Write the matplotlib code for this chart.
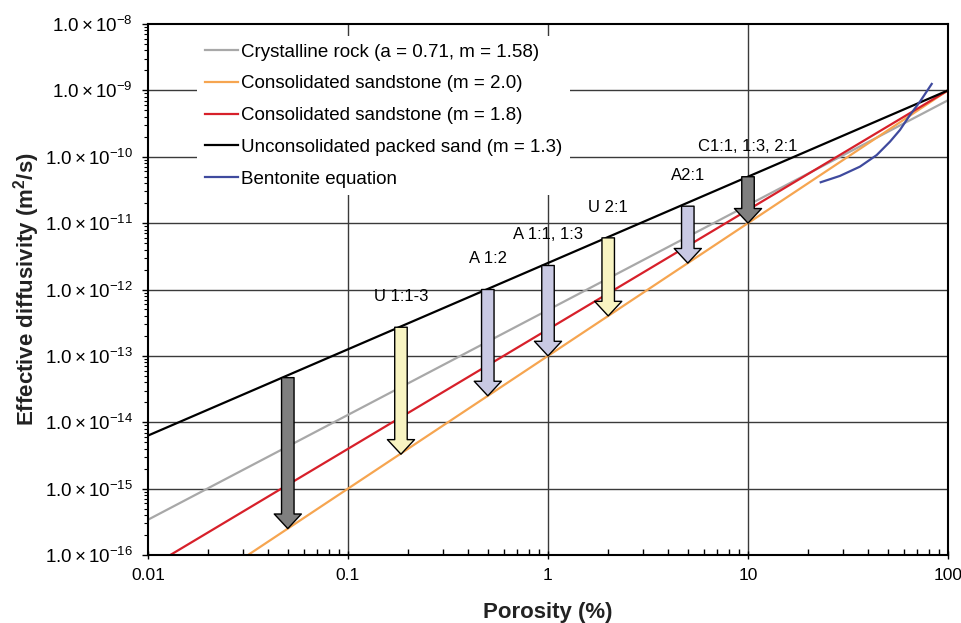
import numpy as np
import matplotlib
matplotlib.use("Agg")
import matplotlib.pyplot as plt
from matplotlib.patches import FancyArrowPatch, ArrowStyle
from matplotlib.ticker import LogLocator, NullFormatter

plt.rcParams['font.family'] = ['Liberation Sans', 'DejaVu Sans']
plt.rcParams['mathtext.fontset'] = 'custom'
plt.rcParams['mathtext.rm'] = 'Liberation Sans'
plt.rcParams['mathtext.it'] = 'Liberation Sans:italic'
plt.rcParams['mathtext.bf'] = 'Liberation Sans:bold'

# ---- data ----
line_x = [0.01, 100]
crystalline_y = [3.4e-16, 7.1e-10]
sandstone20_y = [1.0e-17, 1.0e-9]
sandstone18_y = [6.3e-17, 1.0e-9]
packed_sand_y = [6.3e-15, 1.0e-9]

bentonite_x = [23.1, 28.8, 36.3, 44.0, 51.3, 57.5, 64.6, 72.4, 82.9]
bentonite_y = [4.13e-11, 5.14e-11, 7.1e-11, 1.06e-10, 1.69e-10, 2.53e-10, 4.27e-10, 6.76e-10, 1.25e-9]

arrow_x = [0.05, 0.184, 0.5, 1.0, 2.0, 5.0, 10.0]
arrow_top = [4.7e-14, 2.7e-13, 1.0e-12, 2.3e-12, 6.0e-12, 1.8e-11, 5.0e-11]
arrow_bottom = [2.5e-16, 3.3e-15, 2.5e-14, 1.0e-13, 4.0e-13, 2.5e-12, 1.0e-11]
arrow_labels = ["", "U 1:1-3", "A 1:2", "A 1:1, 1:3", "U 2:1", "A2:1", "C1:1, 1:3, 2:1"]
arrow_colors = ["#7f7f7f", "#f8f4c2", "#c9c9e3", "#c9c9e3", "#f8f4c2", "#c9c9e3", "#7f7f7f"]

x_ticks = [0.01, 0.1, 1, 10, 100]
x_ticklabels = ["0.01", "0.1", "1", "10", "100"]
y_exponents = [-16, -15, -14, -13, -12, -11, -10, -9, -8]

legend_labels = ["Crystalline rock (a = 0.71, m = 1.58)",
                 "Consolidated sandstone (m = 2.0)",
                 "Consolidated sandstone (m = 1.8)",
                 "Unconsolidated packed sand (m = 1.3)",
                 "Bentonite equation"]

# ---- figure ----
fig = plt.figure(figsize=(9.62, 6.23), dpi=100)
ax = fig.add_axes([148/962, 68/623, 800/962, 531/623])
ax.set_xscale('log')
ax.set_yscale('log')
ax.set_xlim(0.01, 100)
ax.set_ylim(1e-16, 1e-8)

grid_c = '#3a3a3a'
for e in y_exponents[1:-1]:
    ax.axhline(10.0**e, color=grid_c, lw=1.0, zorder=1)
for xv in x_ticks[1:-1]:
    ax.axvline(xv, color=grid_c, lw=1.0, zorder=1)

lw = 1.6
h1, = ax.plot(line_x, crystalline_y, color='#a8a8a8', lw=lw, zorder=3, label=legend_labels[0])
h2, = ax.plot(line_x, sandstone20_y, color='#f6a550', lw=lw, zorder=3, label=legend_labels[1])
h3, = ax.plot(line_x, sandstone18_y, color='#d7202a', lw=lw, zorder=3, label=legend_labels[2])
h4, = ax.plot(line_x, packed_sand_y, color='black', lw=lw, zorder=3, label=legend_labels[3])
h5, = ax.plot(bentonite_x, bentonite_y, color='#3f4a9e', lw=lw, zorder=3, label=legend_labels[4])

style = ArrowStyle.Simple(head_length=10.5, head_width=19.5, tail_width=9.0)
for x, t, b, lab, c in zip(arrow_x, arrow_top, arrow_bottom, arrow_labels, arrow_colors):
    p = FancyArrowPatch((x, t), (x, b), arrowstyle=style, mutation_scale=1,
                        shrinkA=0, shrinkB=0, facecolor=c, edgecolor='black',
                        lw=1.0, zorder=5)
    ax.add_patch(p)
    if lab:
        ax.annotate(lab, (x, t), xytext=(0, 22), textcoords='offset points',
                    ha='center', va='center', fontsize=12, zorder=6)

leg = ax.legend(handles=[h1, h2, h3, h4, h5], loc='upper left',
                bbox_to_anchor=(0.05, 0.995), frameon=True, fancybox=False,
                facecolor='white', edgecolor='none', framealpha=1,
                fontsize=13.5, handlelength=1.75, handletextpad=0.2,
                labelspacing=0.78, borderpad=0.4)
leg.set_zorder(4)

ax.set_xticks(x_ticks)
ax.set_xticklabels(x_ticklabels, fontsize=12.5)
ax.xaxis.set_minor_locator(LogLocator(base=10, subs=np.arange(2, 10)))
ax.xaxis.set_minor_formatter(NullFormatter())
ax.tick_params(axis='x', which='major', direction='inout', length=6, width=1, pad=6)
ax.tick_params(axis='x', which='minor', direction='in', length=4, width=1)

ax.set_yticks([10.0**e for e in y_exponents])
ax.set_yticklabels([r'$\mathregular{1.0\times10^{%d}}$' % e for e in y_exponents], fontsize=13.5)
ax.yaxis.set_minor_locator(LogLocator(base=10, subs=np.arange(2, 10), numticks=20))
ax.yaxis.set_minor_formatter(NullFormatter())
ax.tick_params(axis='y', which='major', direction='out', length=4, width=1, pad=7)
ax.tick_params(axis='y', which='minor', direction='out', length=3, width=0.8)

for s in ax.spines.values():
    s.set_linewidth(1.5)
    s.set_zorder(7)

ax.set_xlabel('Porosity (%)', fontsize=16, fontweight='bold', color='#222222', labelpad=14)
ax.set_ylabel('Effective diffusivity (m$^{\\mathregular{2}}$/s)', fontsize=16,
              fontweight='bold', color='#222222')
ax.yaxis.set_label_coords(-0.133, 0.5)

fig.savefig('out.png', dpi=100)
